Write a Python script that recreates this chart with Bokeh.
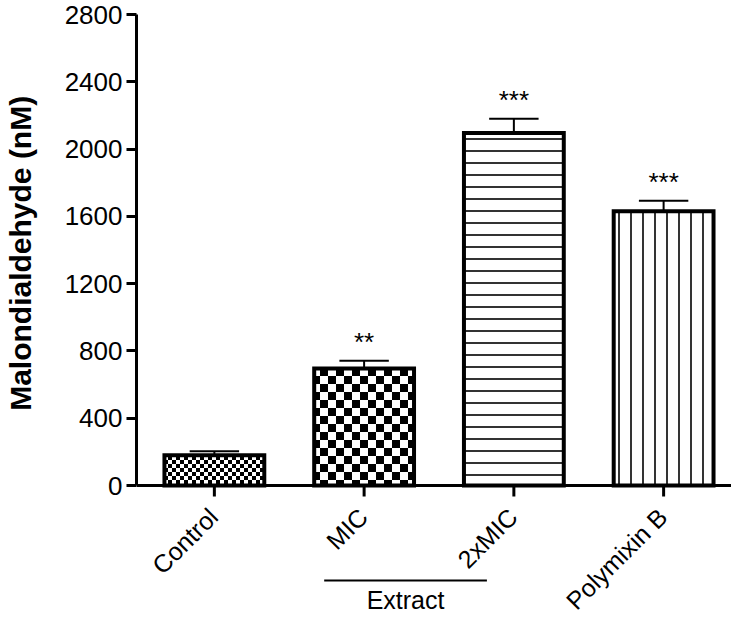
import math, zlib, struct, base64
from bokeh.plotting import figure
from bokeh.models import Range1d, FixedTicker, Span, ImageURLTexture
from bokeh.core.properties import value
from bokeh.embed import file_html
from bokeh.resources import INLINE

# ---- data ----
categories = ["Control", "MIC", "2xMIC", "Polymixin B"]
means = [180, 695, 2095, 1630]
errors = [23, 47, 85, 63]
stars = ["", "**", "***", "***"]
y_ticks = [0, 400, 800, 1200, 1600, 2000, 2400, 2800]
group_label = "Extract"
group_members = ["MIC", "2xMIC"]
y_label = "Malondialdehyde (nM)"

FONT = "Liberation Sans"


def checker_png(cell):
    n = cell * 2
    raw = b""
    for r in range(n):
        row = bytearray([0])
        for c in range(n):
            v = 0 if ((r // cell) + (c // cell)) % 2 == 0 else 255
            row += bytes([v, v, v])
        raw += bytes(row)

    def chunk(t, d):
        return struct.pack(">I", len(d)) + t + d + struct.pack(">I", zlib.crc32(t + d) & 0xffffffff)

    png = (b"\x89PNG\r\n\x1a\n" + chunk(b"IHDR", struct.pack(">IIBBBBB", n, n, 8, 2, 0, 0, 0))
           + chunk(b"IDAT", zlib.compress(raw)) + chunk(b"IEND", b""))
    return "data:image/png;base64," + base64.b64encode(png).decode()


textures = {
    "fine_checker": ImageURLTexture(url=checker_png(4), repetition="repeat"),
    "big_checker": ImageURLTexture(url=checker_png(8), repetition="repeat"),
}
patterns = ["fine_checker", "big_checker", "horizontal_line", "vertical_line"]

# ---- layout (pixels) ----
W, H = 731, 614
left_b = 135
frame_w = W - left_b
px_per_cat = 150.0
x0 = -78 / px_per_cat            # frame left edge 78px left of first bar centre
zero_px = 485                    # y of value 0 from top
top_tick_px = 14                 # y of 2800 from top
scale = (zero_px - top_tick_px) / 2800.0   # px per unit
y_end = 2800 + top_tick_px / scale
y_start = -(H - zero_px) / scale

p = figure(width=W, height=H, output_backend="svg", toolbar_location=None,
           x_range=Range1d(x0, x0 + frame_w / px_per_cat), y_range=Range1d(y_start, y_end),
           x_axis_location=None,
           min_border_left=left_b, min_border_right=0, min_border_top=0,
           min_border_bottom=0)
p.outline_line_color = None
p.grid.visible = False
p.background_fill_color = "white"
p.border_fill_color = "white"

bw = 100 / px_per_cat
for i, (m, pat) in enumerate(zip(means, patterns)):
    kw = dict(x=[i], top=[m], width=bw, bottom=0, fill_color="white",
              line_color="black", line_width=4, line_join="miter", hatch_color="black")
    if pat in textures:
        kw.update(hatch_pattern=value(pat), hatch_extra={pat: textures[pat]})
    else:
        kw.update(hatch_pattern=pat, hatch_scale=12, hatch_weight=1.6)
    p.vbar(**kw)

xs = list(range(len(categories)))
tops = [m + e for m, e in zip(means, errors)]
cap = 0.165
p.segment(x0=xs, y0=means, x1=xs, y1=tops, line_color="black", line_width=2)
p.segment(x0=[x - cap for x in xs], y0=tops, x1=[x + cap for x in xs], y1=tops,
          line_color="black", line_width=2)

p.text(x=xs, y=[t + 19 / scale for t in tops], text=stars, text_font=value(FONT),
       text_font_size="26px", text_align="center", text_baseline="alphabetic",
       text_color="black")

# ---- x axis (drawn at value 0) ----
p.add_layout(Span(location=0, dimension="width", line_color="black", line_width=3))
p.segment(x0=xs, y0=[0] * len(xs), x1=xs, y1=[-11 / scale] * len(xs),
          line_color="black", line_width=3)
p.text(x=[x - 1 / px_per_cat for x in xs], y=[-27 / scale] * len(xs), text=categories,
       angle=math.pi / 4, text_font=value(FONT), text_font_size="25px",
       text_align="right", text_baseline="middle", text_color="black")

# group bracket
g0 = categories.index(group_members[0])
g1 = categories.index(group_members[-1])
gx0 = g0 - 40 / px_per_cat
gx1 = g1 - 27 / px_per_cat
p.segment(x0=[gx0], y0=[-95 / scale], x1=[gx1], y1=[-95 / scale], line_color="black", line_width=2)
p.text(x=[(gx0 + gx1) / 2], y=[-114 / scale], text=[group_label], text_font=value(FONT),
       text_font_size="25px", text_align="center", text_baseline="alphabetic",
       text_color="black")

# ---- y axis ----
ya = p.yaxis[0]
ya.ticker = FixedTicker(ticks=y_ticks)
ya.bounds = (0, 2800)
ya.axis_line_width = 3
ya.axis_line_color = "black"
ya.major_tick_line_width = 3
ya.major_tick_line_color = "black"
ya.major_tick_out = 10
ya.major_tick_in = 0
ya.minor_tick_out = 0
ya.minor_tick_in = 0
ya.major_label_text_font = FONT
ya.major_label_text_font_size = "26px"
ya.major_label_text_color = "black"
ya.major_label_standoff = 4
# the frame runs down to the figure bottom; pad the label start so it centres on the 0-2800 span
ya.axis_label = "\u00a0" * 13 + y_label
ya.axis_label_text_font = FONT
ya.axis_label_text_font_size = "30px"
ya.axis_label_text_font_style = "bold"
ya.axis_label_text_color = "black"
ya.axis_label_standoff = 25

open("out.html", "w").write(file_html(p, INLINE))
